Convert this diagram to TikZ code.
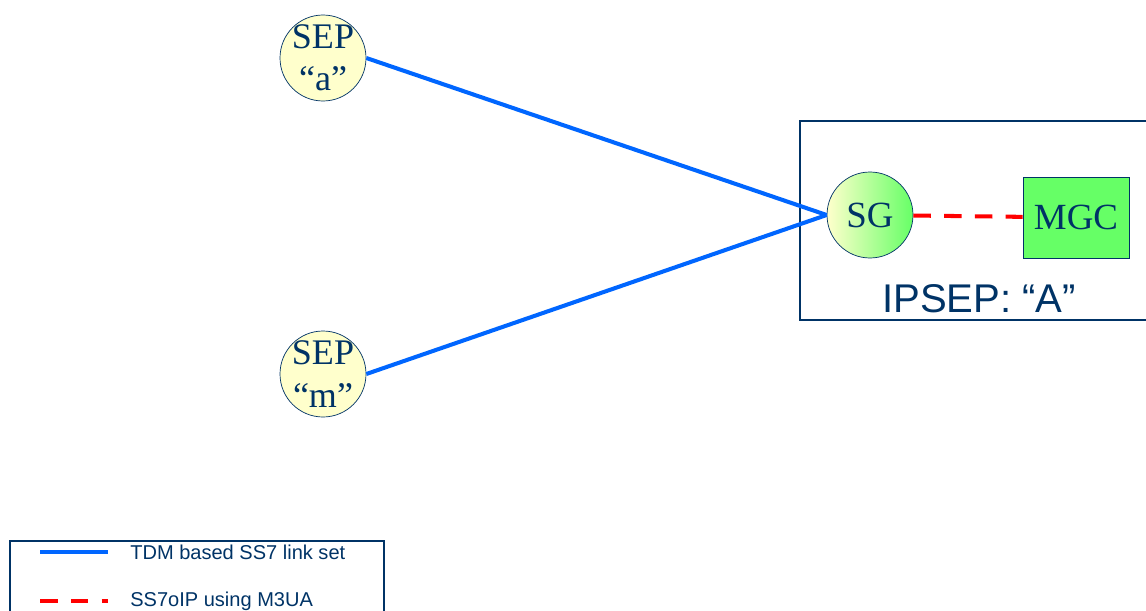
\documentclass[tikz,border=0pt]{standalone}
\usepackage{fontspec}
\setmainfont{Liberation Serif}
\setsansfont{Liberation Sans}
\usetikzlibrary{positioning}

\definecolor{navytext}{RGB}{0,51,102}
\definecolor{linkblue}{RGB}{0,102,255}
\definecolor{paleyellow}{RGB}{255,255,204}
\definecolor{mgcgreen}{RGB}{102,255,102}

\begin{document}
\begin{tikzpicture}[
    sep/.style={circle, draw=navytext, thin, fill=paleyellow, minimum size=1.72cm,
                inner sep=-5pt, align=center, text=navytext, font=\fontsize{20.5}{24}\selectfont},
    sgnode/.style={circle, draw=navytext, thin, left color=paleyellow, right color=mgcgreen,
                minimum size=1.72cm, inner sep=0pt, text=navytext, font=\fontsize{21}{24}\selectfont},
    mgcbox/.style={rectangle, draw=navytext, fill=mgcgreen, minimum width=2.12cm,
                minimum height=1.62cm, text=navytext, font=\fontsize{21}{24}\selectfont},
    tdm/.style={draw=linkblue, line width=2.3pt},
    m3ua/.style={draw=red, line width=2.3pt, dash pattern=on 10pt off 7.5pt},
    legendtext/.style={text=navytext, font=\sffamily\fontsize{11.4}{13}\selectfont, inner sep=0pt}]

  \useasboundingbox (0,0) rectangle (22.92,12.2);

  % Signalling end points
  \node (sepa) [sep] at (6.46,11.04) {SEP\\``a''};
  \node (sepm) [sep] at (6.46,4.72) {SEP\\``m''};

  % IPSEP with SG and MGC
  \draw [navytext, line width=0.8pt] (23.4,9.78) -- (16.0,9.78) -- (16.0,5.8) -- (23.4,5.8);
  \node (sg) [sgnode] at (17.4,7.9) {SG};
  \node (mgc) [mgcbox] at (21.52,7.85) {MGC};
  \node (ipsep) [text=navytext, font=\sffamily\fontsize{22.8}{24}\selectfont] at (19.58,6.22) {IPSEP: ``A''};

  % Links
  \draw [tdm] (sepa.east) -- (sg.west);
  \draw [tdm] (sepm.east) -- (sg.west);
  \draw [m3ua] (sg) -- (mgc);

  % Legend
  \draw [navytext, line width=0.8pt] (0.2,-0.3) -- (0.2,1.38) -- (7.68,1.38) -- (7.68,-0.3);
  \coordinate (tdma) at (0.8,1.16);
  \coordinate (tdmb) at (2.16,1.16);
  \draw [tdm] (tdma) -- (tdmb);
  \node (tdmlabel) [legendtext, anchor=west, right=0.44cm of tdmb] {TDM based SS7 link set};
  \coordinate (m3uaa) at (0.8,0.18);
  \coordinate (m3uab) at (2.16,0.18);
  \draw [m3ua] (m3uaa) -- (m3uab);
  \node (m3ualabel) [legendtext, anchor=west, right=0.44cm of m3uab] {SS7oIP using M3UA};
\end{tikzpicture}
\end{document}
